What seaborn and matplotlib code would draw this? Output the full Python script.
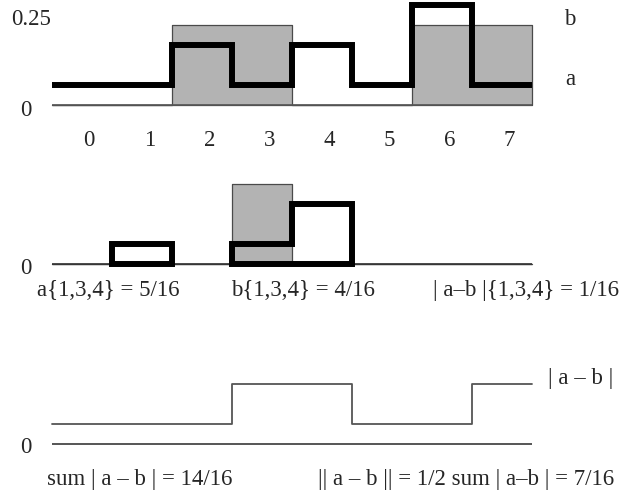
import numpy as np
import pandas as pd
import matplotlib
matplotlib.use("Agg")
import matplotlib.pyplot as plt
import seaborn as sns
from matplotlib.patches import Polygon

# Bin values, in sixteenths
bins = [0, 1, 2, 3, 4, 5, 6, 7]
a16 = [1, 1, 3, 1, 3, 1, 5, 1]
b16 = [0, 0, 4, 4, 0, 0, 4, 4]
subset = [1, 3, 4]
tick_labels = ["0", "1", "2", "3", "4", "5", "6", "7"]

df = pd.DataFrame({"bin": bins, "a": np.array(a16) / 16, "b": np.array(b16) / 16})
df["center"] = df["bin"] + 0.5
df["diff"] = (df["a"] - df["b"]).abs()
edges = list(range(len(bins) + 1))
a = df["a"].to_numpy()
diff = df["diff"].to_numpy()

sns.set_style("white")
plt.rcParams["font.family"] = ["Liberation Serif", "DejaVu Serif"]
FS = 16.5

W, H = 623, 493
fig = plt.figure(figsize=(W / 100, H / 100), dpi=100)

GRAY = "#b3b3b3"
EDGE = "#4a4a4a"
THICK = 4.3


def set_band(ax, top, bottom, base):
    # 60 px per bin, 320 px per unit of probability
    ax.set_xlim(-52 / 60, (W - 52) / 60)
    ax.set_ylim((base - bottom) / 320, (base - top) / 320)
    ax.set_axis_off()


def band_axes(top, bottom):
    return fig.add_axes([0, 1 - bottom / H, 1, (bottom - top) / H])


def ptext(x, y, s, **kw):
    kw.setdefault("fontsize", FS)
    kw.setdefault("va", "baseline")
    kw.setdefault("ha", "center")
    fig.text(x / W, 1 - y / H, s, **kw)


# ---- top: b as grey blocks, a as thick step line
ax1 = band_axes(0, 160)
sns.histplot(data=df[df["b"] > 0], x="center", weights="b", bins=edges, element="step",
             color=GRAY, alpha=1, edgecolor=EDGE, linewidth=0.9, ax=ax1)
ax1.hlines(0, edges[0], edges[-1], color="#555555", lw=1.2, zorder=1)
sns.lineplot(x=edges, y=np.append(a, a[-1]), drawstyle="steps-post", estimator=None,
             color="black", lw=THICK, solid_joinstyle="miter", solid_capstyle="butt", ax=ax1)
set_band(ax1, 0, 160, 105)
for i, lab in zip(bins, tick_labels):
    ax1.text(i + 0.62, (105 - 146) / 320, lab, ha="center", va="baseline", fontsize=FS)

ptext(31, 25, "0.25")
ptext(26, 116, "0")
ptext(570, 25, "b")
ptext(570, 85, "a")

# ---- middle: restriction to the subset
ax2 = band_axes(160, 320)
sub_df = df[df["bin"].isin(subset)]
sns.histplot(data=sub_df[sub_df["b"] > 0], x="center", weights="b", bins=edges, element="step",
             color=GRAY, alpha=1, edgecolor=EDGE, linewidth=0.9, ax=ax2)
ax2.hlines(0, edges[0], edges[-1], color="#333333", lw=1.2, zorder=1)

groups = []
for i in subset:
    if groups and groups[-1][-1] == i - 1:
        groups[-1].append(i)
    else:
        groups.append([i])
for g in groups:
    xs, ys = [g[0]], [0]
    for i in g:
        xs += [i, i + 1]
        ys += [a[i], a[i]]
    xs += [g[-1] + 1]
    ys += [0]
    ax2.add_patch(Polygon(np.column_stack([xs, ys]), closed=True, fill=False,
                          ec="black", lw=THICK, joinstyle="miter", zorder=3))
set_band(ax2, 160, 320, 264)

ptext(26, 274, "0")
ptext(108, 296, "a{1,3,4} = 5/16")
ptext(303, 296, "b{1,3,4} = 4/16")
ptext(526, 296, "| a\u2013b |{1,3,4} = 1/16")

# ---- bottom: |a - b|
ax3 = band_axes(320, 493)
ax3.hlines(0, edges[0], edges[-1], color="#555555", lw=1.4)
sns.lineplot(x=edges, y=np.append(diff, diff[-1]), drawstyle="steps-post", estimator=None,
             color="#555555", lw=1.3, ax=ax3)
set_band(ax3, 320, 493, 444)

ptext(26, 453, "0")
ptext(581, 384, "| a \u2013 b |")
ptext(140, 485, "sum | a \u2013 b | = 14/16")
ptext(466, 485, "|| a \u2013 b || = 1/2 sum | a\u2013b | = 7/16")

fig.savefig("out.png", dpi=100)
